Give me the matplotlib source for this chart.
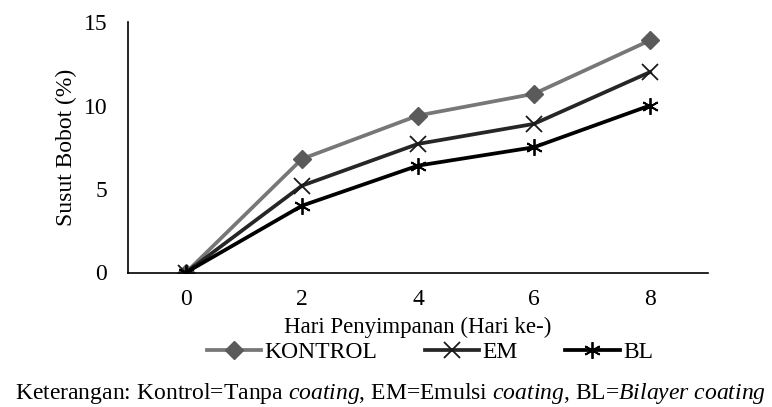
import matplotlib
matplotlib.use("Agg")
import matplotlib.pyplot as plt

hari = ["0", "2", "4", "6", "8"]
kontrol = [0, 6.8, 9.4, 10.7, 13.9]
em = [0, 5.2, 7.7, 8.9, 12.0]
bl = [0, 4.0, 6.4, 7.5, 10.0]

plt.rcParams['font.family'] = ['Liberation Serif', 'DejaVu Serif']
plt.rcParams['mathtext.fontset'] = 'custom'
plt.rcParams['mathtext.rm'] = 'Liberation Serif'
plt.rcParams['mathtext.it'] = 'Liberation Serif:italic'

fs = 17

fig = plt.figure(figsize=(7.72, 4.07), dpi=100)
ax = fig.add_axes([128/772, 1 - 272.5/407, 580/772, 250.5/407])

x = range(len(hari))
ax.plot(x, kontrol, color='#777777', lw=2.7, marker='D', ms=9,
        mfc='#5a5a5a', mec='#5a5a5a', label='KONTROL')
ax.plot(x, em, color='#262626', lw=2.7, marker='x', ms=11, mew=1.3,
        mec='#1a1a1a', label='EM')
ax.plot(x, bl, color='#000000', lw=2.7, marker=(6, 2, 0), ms=12, mew=1.3,
        mec='#000000', label='BL')

ax.set_xlim(-0.5, 4.5)
ax.set_ylim(0, 15)
ax.set_yticks([0, 5, 10, 15])
ax.set_xticks(list(x))
ax.set_xticklabels(hari)
ax.tick_params(length=0, labelsize=fs)
ax.tick_params(axis='y', pad=15)
ax.tick_params(axis='x', pad=12)
for s in ['top', 'right']:
    ax.spines[s].set_visible(False)
ax.spines['left'].set_linewidth(1.2)
ax.spines['bottom'].set_linewidth(1.2)
ax.set_ylabel('Susut Bobot (%)', fontsize=fs, labelpad=5)
ax.set_xlabel('Hari Penyimpanan (Hari ke-)', fontsize=16.5, labelpad=5)

leg = fig.legend(loc='center', bbox_to_anchor=(430/772, 1 - 352/407), ncol=3,
                 frameon=False, fontsize=fs, handlelength=2.3,
                 columnspacing=2.0, handletextpad=0.15)

fig.text(390/772, 1 - 399/407,
         r'Keterangan: Kontrol=Tanpa $\mathit{coating}$, EM=Emulsi $\mathit{coating}$, BL=$\mathit{Bilayer\ coating}$',
         ha='center', va='baseline', fontsize=fs)

fig.savefig('out.png', dpi=100)
